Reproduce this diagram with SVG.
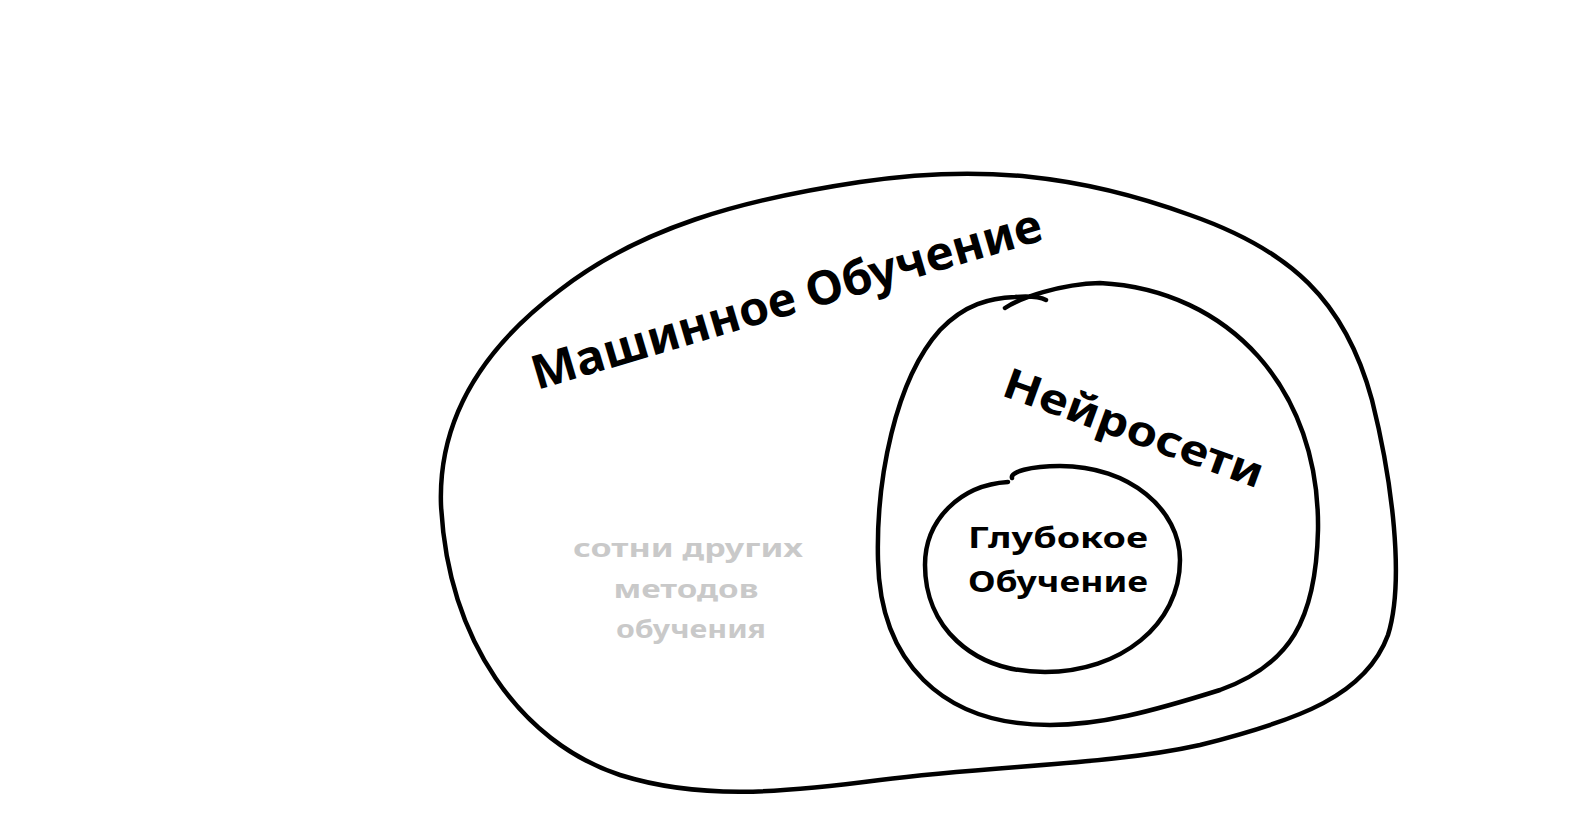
<svg xmlns="http://www.w3.org/2000/svg" width="1583" height="832" viewBox="0 0 1583 832">
<style>
.line{fill:none;stroke:#000;stroke-width:4.5;stroke-linecap:round;stroke-linejoin:round}
.lbl{font-family:"Comic Sans MS","Noto Sans","DejaVu Sans",sans-serif;font-weight:700;fill:#000}
.grey{font-family:"Comic Sans MS","Noto Sans","DejaVu Sans",sans-serif;font-weight:700;fill:#c9c9c9;font-size:25px;text-anchor:middle}
</style>
<rect width="1583" height="832" fill="#fff"/>
<g id="ml">
<path class="line" d="M441,505 C438,420 480,350 560,290 C640,228 740,200 860,182 C980,164 1080,175 1190,215 C1290,250 1345,300 1372,400 C1392,480 1405,580 1388,635 C1366,695 1300,720 1200,745 C1110,765 1000,765 880,780 C780,793 700,800 620,775 C520,742 448,640 441,505 Z"/>
<text class="lbl" font-size="47" transform="translate(537,390) rotate(-16.5)" textLength="530" lengthAdjust="spacingAndGlyphs">Машинное Обучение</text>
<text class="grey" x="688" y="557" textLength="230" lengthAdjust="spacingAndGlyphs">сотни других</text>
<text class="grey" x="686" y="598" textLength="145" lengthAdjust="spacingAndGlyphs">методов</text>
<text class="grey" x="691" y="638" textLength="150" lengthAdjust="spacingAndGlyphs">обучения</text>
</g>
<g id="nn">
<path class="line" d="M1005,308 C1020,298 1060,284 1100,283 C1230,290 1320,390 1318,530 C1316,620 1290,665 1220,690 C1150,712 1100,725 1050,725 C940,725 880,660 878,560 C876,480 895,380 940,330 C965,304 990,298 1015,297 C1028,296 1040,297 1046,300"/>
<text class="lbl" font-size="42" transform="translate(1000,395) rotate(20)" textLength="274" lengthAdjust="spacingAndGlyphs">Нейросети</text>
</g>
<g id="dl">
<path class="line" d="M1012,478 C1010,472 1030,466 1060,466 C1130,466 1180,510 1180,560 C1180,625 1120,672 1045,672 C970,672 925,625 925,565 C925,520 960,485 1008,482"/>
<text class="lbl" font-size="29" x="1058" y="548" text-anchor="middle" textLength="180" lengthAdjust="spacingAndGlyphs">Глубокое</text>
<text class="lbl" font-size="29" x="1058" y="592" text-anchor="middle" textLength="180" lengthAdjust="spacingAndGlyphs">Обучение</text>
</g>
</svg>
